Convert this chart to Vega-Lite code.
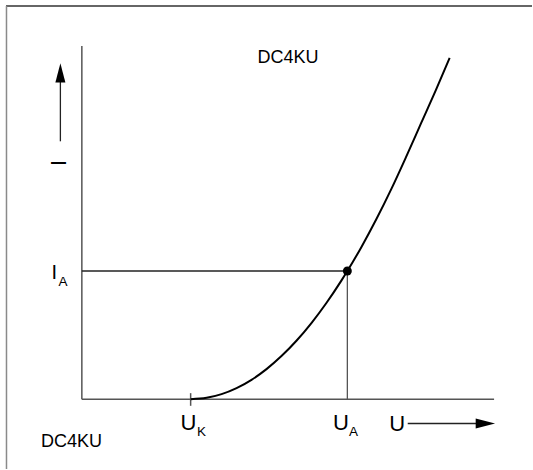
{
  "$schema": "https://vega.github.io/schema/vega-lite/v6.json",
  "width": 533,
  "height": 470,
  "padding": 0,
  "autosize": {"type": "fit", "contains": "padding"},
  "background": "white",
  "config": {"view": {"stroke": null}, "text": {"font": "Liberation Sans", "color": "black"}},
  "datasets": {
    "curve": [
      {"U": 2.18, "I": 0},
      {"U": 2.5, "I": 0.033},
      {"U": 2.8, "I": 0.125},
      {"U": 3.1, "I": 0.276},
      {"U": 3.4, "I": 0.485},
      {"U": 3.7, "I": 0.752},
      {"U": 4.0, "I": 1.079},
      {"U": 4.3, "I": 1.463},
      {"U": 4.6, "I": 1.907},
      {"U": 4.9, "I": 2.409},
      {"U": 5.2, "I": 2.97},
      {"U": 5.32, "I": 3.21},
      {"U": 5.6, "I": 3.808},
      {"U": 5.9, "I": 4.506},
      {"U": 6.2, "I": 5.262},
      {"U": 6.5, "I": 6.077},
      {"U": 6.8, "I": 6.92},
      {"U": 7.1, "I": 7.76},
      {"U": 7.37, "I": 8.55}
    ],
    "frame_top": [{"u1": -1.52, "u2": 9.02, "i": 9.85}],
    "frame_left": [{"u": -1.51, "i1": 9.85, "i2": -1.75}],
    "axes": [
      {"part": "ordinate", "u1": 0, "i1": 0, "u2": 0, "i2": 8.85},
      {"part": "abscissa", "u1": 0, "i1": 0, "u2": 8.26, "i2": 0},
      {"part": "knee tick", "u1": 2.18, "i1": 0.15, "u2": 2.18, "i2": -0.167}
    ],
    "operating_h": [{"u1": 0, "u2": 5.32, "i": 3.21}],
    "operating_v": [{"u": 5.32, "i1": 3.21, "i2": 0}],
    "operating_point": [{"U": 5.32, "I": 3.21}],
    "arrow_stems": [
      {"dir": "up", "u1": -0.43, "i1": 6.46, "u2": -0.43, "i2": 8.0},
      {"dir": "right", "u1": 6.53, "i1": -0.61, "u2": 7.96, "i2": -0.61}
    ],
    "arrow_heads": [
      {"dir": "up", "u": -0.43, "i": 8.175},
      {"dir": "right", "u": 8.086, "i": -0.61}
    ],
    "voltage_symbols": [
      {"t": "U", "u": 2.134, "i": -0.7675},
      {"t": "U", "u": 5.194, "i": -0.7675},
      {"t": "U", "u": 6.32, "i": -0.7925}
    ],
    "current_symbols": [
      {"t": "I", "u": -0.55, "i": 3.0175}
    ],
    "subscripts": [
      {"t": "K", "u": 2.4, "i": -0.9325},
      {"t": "A", "u": 5.444, "i": -0.9325},
      {"t": "A", "u": -0.38, "i": 2.8325}
    ],
    "axis_name": [{"t": "I", "u": -0.466, "i": 5.9175}],
    "marks_text": [
      {"t": "DC4KU", "u": 4.13, "i": 8.4175},
      {"t": "DC4KU", "u": -0.206, "i": -1.2075}
    ]
  },
  "encoding": {
    "x": {"type": "quantitative", "axis": null, "scale": {"domain": [-1.64, 9.02], "nice": false, "zero": false}},
    "y": {"type": "quantitative", "axis": null, "scale": {"domain": [-1.75, 10], "nice": false, "zero": false}}
  },
  "layer": [
    {
      "data": {"name": "frame_top"},
      "mark": {"type": "rule", "stroke": "#333333", "strokeWidth": 1.5},
      "encoding": {"x": {"field": "u1", "type": "quantitative"}, "x2": {"field": "u2"}, "y": {"field": "i", "type": "quantitative"}}
    },
    {
      "data": {"name": "frame_left"},
      "mark": {"type": "rule", "stroke": "#8a8a8a", "strokeWidth": 1.5},
      "encoding": {"x": {"field": "u", "type": "quantitative"}, "y": {"field": "i1", "type": "quantitative"}, "y2": {"field": "i2"}}
    },
    {
      "data": {"name": "axes"},
      "mark": {"type": "rule", "stroke": "#555555", "strokeWidth": 1.5},
      "encoding": {
        "x": {"field": "u1", "type": "quantitative"}, "x2": {"field": "u2"},
        "y": {"field": "i1", "type": "quantitative"}, "y2": {"field": "i2"}
      }
    },
    {
      "data": {"name": "operating_h"},
      "mark": {"type": "rule", "stroke": "#222222", "strokeWidth": 1.3},
      "encoding": {"x": {"field": "u1", "type": "quantitative"}, "x2": {"field": "u2"}, "y": {"field": "i", "type": "quantitative"}}
    },
    {
      "data": {"name": "operating_v"},
      "mark": {"type": "rule", "stroke": "#555555", "strokeWidth": 1.3},
      "encoding": {"x": {"field": "u", "type": "quantitative"}, "y": {"field": "i1", "type": "quantitative"}, "y2": {"field": "i2"}}
    },
    {
      "data": {"name": "curve"},
      "mark": {"type": "line", "color": "black", "strokeWidth": 2, "interpolate": "monotone"},
      "encoding": {"x": {"field": "U", "type": "quantitative"}, "y": {"field": "I", "type": "quantitative"}}
    },
    {
      "data": {"name": "operating_point"},
      "mark": {"type": "point", "shape": "circle", "filled": true, "color": "black", "size": 80, "opacity": 1},
      "encoding": {"x": {"field": "U", "type": "quantitative"}, "y": {"field": "I", "type": "quantitative"}}
    },
    {
      "data": {"name": "arrow_stems"},
      "mark": {"type": "rule", "stroke": "#222222", "strokeWidth": 1.3},
      "encoding": {
        "x": {"field": "u1", "type": "quantitative"}, "x2": {"field": "u2"},
        "y": {"field": "i1", "type": "quantitative"}, "y2": {"field": "i2"}
      }
    },
    {
      "data": {"name": "arrow_heads"},
      "mark": {"type": "point", "shape": "M0,-0.97L0.5,0.97L-0.5,0.97Z", "filled": true, "color": "black", "size": 400, "opacity": 1},
      "encoding": {
        "x": {"field": "u", "type": "quantitative"},
        "y": {"field": "i", "type": "quantitative"},
        "angle": {"field": "dir", "type": "nominal", "scale": {"domain": ["up", "right"], "range": [0, 90]}, "legend": null}
      }
    },
    {
      "data": {"name": "voltage_symbols"},
      "mark": {"type": "text", "fontSize": 22, "align": "center", "baseline": "alphabetic"},
      "encoding": {"x": {"field": "u", "type": "quantitative"}, "y": {"field": "i", "type": "quantitative"}, "text": {"field": "t"}}
    },
    {
      "data": {"name": "current_symbols"},
      "mark": {"type": "text", "fontSize": 20, "align": "center", "baseline": "alphabetic"},
      "encoding": {"x": {"field": "u", "type": "quantitative"}, "y": {"field": "i", "type": "quantitative"}, "text": {"field": "t"}}
    },
    {
      "data": {"name": "subscripts"},
      "mark": {"type": "text", "fontSize": 13.5, "align": "center", "baseline": "alphabetic"},
      "encoding": {"x": {"field": "u", "type": "quantitative"}, "y": {"field": "i", "type": "quantitative"}, "text": {"field": "t"}}
    },
    {
      "data": {"name": "axis_name"},
      "mark": {"type": "text", "fontSize": 22, "align": "center", "baseline": "middle", "angle": 270},
      "encoding": {"x": {"field": "u", "type": "quantitative"}, "y": {"field": "i", "type": "quantitative"}, "text": {"field": "t"}}
    },
    {
      "data": {"name": "marks_text"},
      "mark": {"type": "text", "fontSize": 18, "align": "center", "baseline": "alphabetic"},
      "encoding": {"x": {"field": "u", "type": "quantitative"}, "y": {"field": "i", "type": "quantitative"}, "text": {"field": "t"}}
    }
  ]
}
